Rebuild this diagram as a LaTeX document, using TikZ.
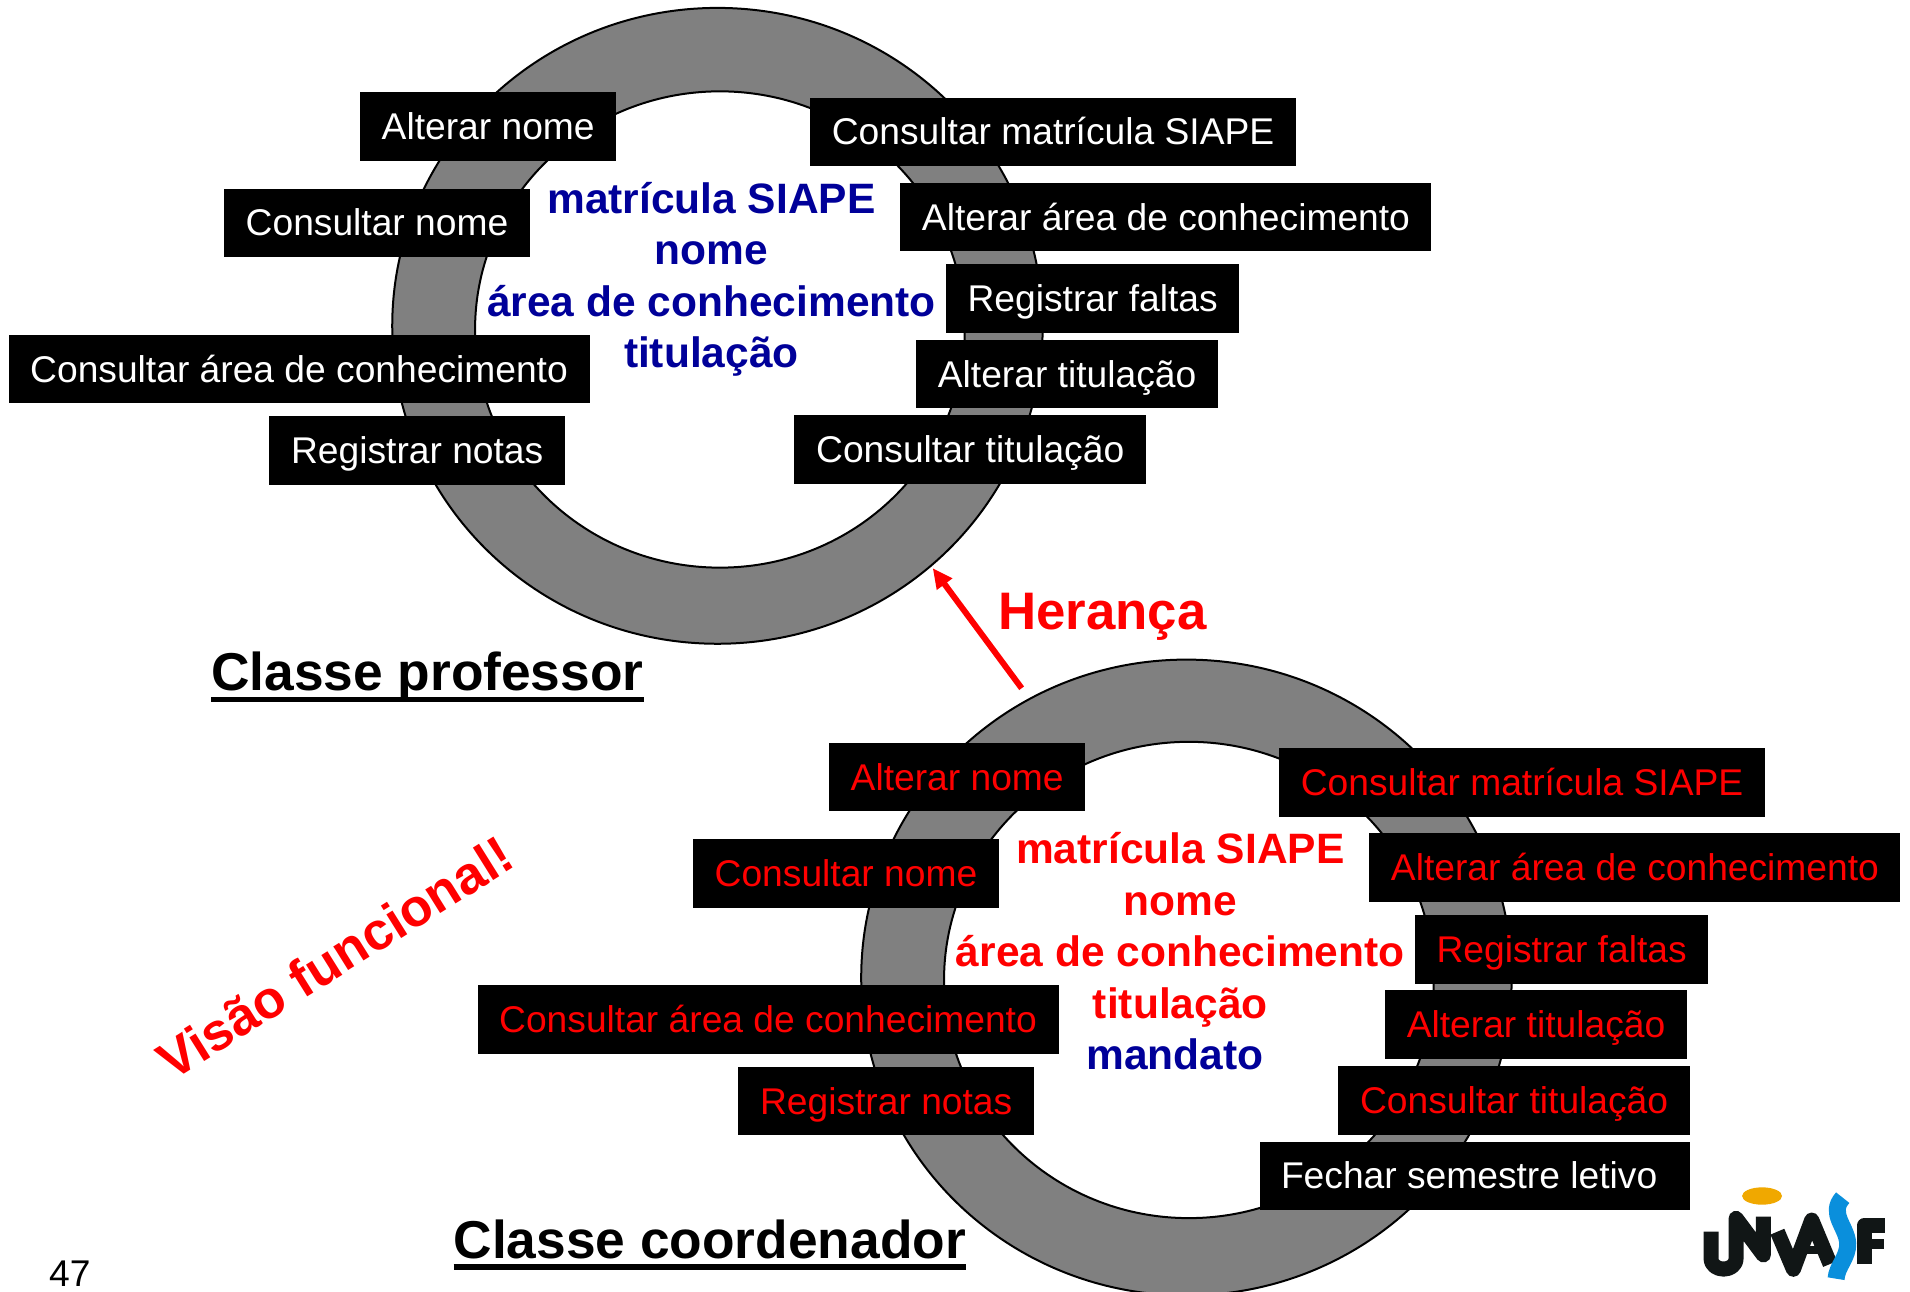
\documentclass[tikz,border=0pt]{standalone}
\usepackage{fontspec}
\setmainfont{Liberation Sans}
\usetikzlibrary{arrows.meta}
\definecolor{ringgray}{HTML}{808080}
\definecolor{deepblue}{HTML}{000099}
\definecolor{logoblack}{HTML}{111616}
\definecolor{logoblue}{HTML}{0A8FDC}
\definecolor{logoorange}{HTML}{F0A800}
\newcommand{\ulhead}[1]{\setbox0\hbox{#1}\rlap{\copy0}\raisebox{-5.85pt}{\rule{\wd0}{2.85pt}}}
\tikzset{
  ring/.style={draw=black,line width=1pt,fill=ringgray,even odd rule},
  opbox/.style={fill=black,inner sep=0pt,text height=13pt,text depth=0pt,minimum height=34.3pt,font=\fontsize{18.6}{22}\selectfont},
  whitebox/.style={opbox,text=white},
  redbox/.style={opbox,text=red},
  attr/.style={font=\fontsize{21.25}{25.8}\bfseries\selectfont,align=center,inner sep=0pt},
  heading/.style={anchor=base west,inner sep=0pt,font=\fontsize{26.65}{32}\bfseries\selectfont},
  logostroke/.style={draw=logoblack,line width=7.5pt,line join=round},
}
\begin{document}
\begin{tikzpicture}[x=0.60906pt,y=-0.60906pt]
\useasboundingbox (0,0) rectangle (1568,1059.85);
\clip (0,0) rectangle (1568,1059.85);
% rings
\path[ring] (589,267.5) ellipse [x radius=267,y radius=261] (591,270.5) ellipse [x radius=201,y radius=195.5];
\path[ring] (974,802.5) ellipse [x radius=267,y radius=261] (976,804.5) ellipse [x radius=201,y radius=195.5];
% professor
\node[whitebox,minimum width=128.2pt] (p1) at (400.8,104) {Alterar nome};
\node[whitebox,minimum width=152.9pt] (p2) at (309.5,183) {Consultar nome};
\node[whitebox,minimum width=290.5pt] (p3) at (245.5,303) {Consultar área de conhecimento};
\node[whitebox,minimum width=148pt] (p4) at (342.5,370) {Registrar notas};
\node[whitebox,minimum width=243pt] (p5) at (864.5,108.3) {Consultar matrícula SIAPE};
\node[whitebox,minimum width=265.5pt] (p6) at (957.2,178.2) {Alterar área de conhecimento};
\node[whitebox,minimum width=146.2pt] (p7) at (897,245) {Registrar faltas};
\node[whitebox,minimum width=151pt] (p8) at (876,307.2) {Alterar titulação};
\node[whitebox,minimum width=176pt] (p9) at (796.5,369) {Consultar titulação};
\node[attr,text=deepblue,anchor=north] (pattr) at (584,149) {matrícula SIAPE\\nome\\área de conhecimento\\titulação};
\node[heading] (phead) at (173,567) {\ulhead{Classe professor}};
% coordinator
\node[redbox,minimum width=128.2pt] (c1) at (785.8,638) {Alterar nome};
\node[redbox,minimum width=152.9pt] (c2) at (694.5,717) {Consultar nome};
\node[redbox,minimum width=290.5pt] (c3) at (630.5,837) {Consultar área de conhecimento};
\node[redbox,minimum width=148pt] (c4) at (727.5,904) {Registrar notas};
\node[redbox,minimum width=243pt] (c5) at (1249.5,642.3) {Consultar matrícula SIAPE};
\node[redbox,minimum width=265.5pt] (c6) at (1342.2,712.2) {Alterar área de conhecimento};
\node[redbox,minimum width=146.2pt] (c7) at (1282,779.3) {Registrar faltas};
\node[redbox,minimum width=151pt] (c8) at (1261,841.2) {Alterar titulação};
\node[redbox,minimum width=176pt] (c9) at (1243,903.3) {Consultar titulação};
\node[whitebox,minimum width=215pt] (c10) at (1210.5,965.3) {Fechar semestre letivo\kern5.4pt};
\node[attr,text=red,anchor=north] (cattr) at (969,683) {matrícula SIAPE\\nome\\área de conhecimento\\titulação};
\node[attr,text=deepblue,anchor=north] (cmandato) at (964.5,852) {mandato};
\node[heading] (chead) at (372,1033) {\ulhead{Classe coordenador}};
% inheritance
\coordinate (arrowstart) at (838.7,565);
\coordinate (arrowend) at (765.7,466.4);
\draw[red,line width=3pt,-{Triangle[length=10pt,width=9pt]}] (arrowstart) -- (arrowend);
\node[anchor=base west,inner sep=0pt,text=red,font=\fontsize{26.4}{32}\bfseries\selectfont] (heranca) at (819,517) {Herança};
\node[rotate=32,text=red,inner sep=0pt,font=\fontsize{26.4}{32}\bfseries\selectfont] (visao) at (275,786) {Visão funcional!};
\node[anchor=base west,inner sep=0pt,font=\fontsize{18.6}{22}\selectfont] (pagenum) at (40,1056) {47};
% logo
\begin{scope}[shift={(1362.8,952.3)},x=0.16667pt,y=-0.16667pt]
  \fill[logoorange] (306,108) ellipse [x radius=60,y radius=26];
  \draw[logostroke] (153,215) -- (153,295) .. controls (153,338) and (228,338) .. (228,295) -- (228,175) -- (310,285) -- (310,170);
  \draw[logostroke] (352,215) -- (400,328) -- (455,180) -- (510,312);
  \draw[logostroke,line width=4pt] (420,270) -- (490,270);
  \draw[logostroke] (612,312) -- (612,197) -- (675,197);
  \draw[logostroke,line width=5pt] (612,252) -- (672,252);
  \draw[draw=logoblue,line width=8.5pt] (548,113) .. controls (505,160) and (560,200) .. (563,250) .. controls (565,290) and (530,320) .. (528,356);
\end{scope}
\end{tikzpicture}
\end{document}
